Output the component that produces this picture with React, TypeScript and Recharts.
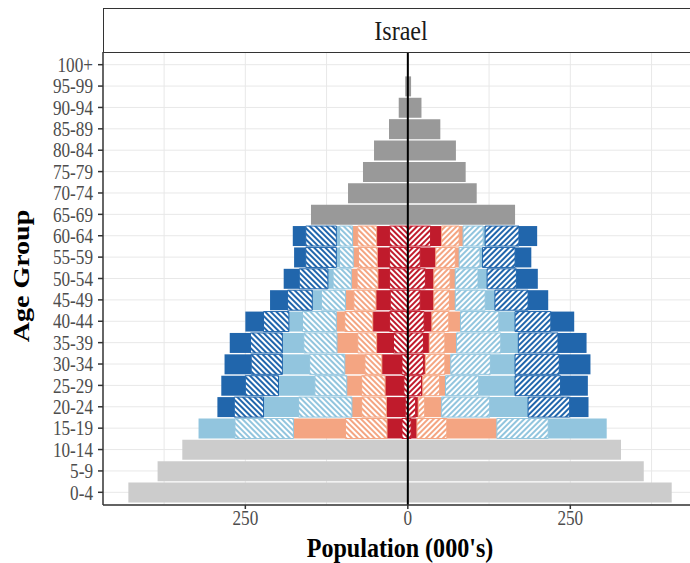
import React from 'react';
import { BarChart, Bar, XAxis, YAxis, CartesianGrid, ReferenceLine } from 'recharts';

// Age groups (bottom to top)
const youngAges = ['0-4', '5-9', '10-14'];
const workingAges = ['15-19', '20-24', '25-29', '30-34', '35-39', '40-44', '45-49', '50-54', '55-59', '60-64'];
const oldAges = ['65-69', '70-74', '75-79', '80-84', '85-89', '90-94', '95-99', '100+'];

// Population in thousands, 0-14
const maleYoung = [430, 385, 347];
const femaleYoung = [406, 363, 328];

// Population in thousands, 15-64, by group (hatched / solid parts)
const maleRedHatched = [9, 4, 6, 9, 22, 28, 27, 28, 28, 28];
const maleRedSolid = [23, 29, 29, 31, 26, 26, 22, 18, 19, 20];
const maleSalmonHatched = [64, 38, 36, 26, 29, 43, 34, 32, 29, 29];
const maleSalmonSolid = [80, 15, 23, 31, 32, 13, 13, 9, 8, 8];
const maleLightHatched = [90, 82, 49, 54, 51, 52, 37, 28, 21, 20];
const maleLightSolid = [56, 54, 56, 42, 33, 21, 14, 8, 5, 5];
const maleBlueHatched = [0, 45, 51, 48, 49, 39, 38, 44, 47, 47];
const maleBlueSolid = [0, 26, 37, 41, 32, 28, 27, 24, 18, 20];

const femaleRedHatched = [5, 12, 21, 24, 24, 25, 19, 27, 19, 35];
const femaleRedSolid = [9, 4, 2, 3, 9, 12, 21, 13, 24, 17];
const femaleSalmonHatched = [46, 10, 26, 30, 24, 26, 24, 25, 30, 27];
const femaleSalmonSolid = [77, 26, 9, 9, 18, 18, 9, 8, 6, 6];
const femaleLightHatched = [79, 74, 51, 61, 68, 59, 46, 35, 32, 31];
const femaleLightSolid = [90, 59, 56, 38, 27, 25, 15, 14, 4, 3];
const femaleBlueHatched = [0, 64, 70, 68, 61, 55, 51, 45, 50, 52];
const femaleBlueSolid = [0, 29, 42, 48, 44, 36, 31, 33, 25, 28];

// Population in thousands, 65+
const maleOld = [149, 92, 69, 52, 29, 14, 4, 0.5];
const femaleOld = [165, 106, 89, 74, 50, 21, 5, 0.8];

const xTicks = [-250, 0, 250];
const gridX = [-375, -250, -125, 0, 125, 250, 375];

const RED = '#c01b2c';
const SALMON = '#f4a582';
const LIGHT = '#92c5de';
const BLUE = '#2166ac';
const OLD_GREY = '#999999';
const YOUNG_GREY = '#cccccc';
const SERIF = '"Liberation Serif", "Times New Roman", serif';
const SQUEEZE = 0.86;

const segments = [
  { key: 'RedH', color: RED, hatched: true, m: maleRedHatched, f: femaleRedHatched },
  { key: 'RedS', color: RED, hatched: false, m: maleRedSolid, f: femaleRedSolid },
  { key: 'SalH', color: SALMON, hatched: true, m: maleSalmonHatched, f: femaleSalmonHatched },
  { key: 'SalS', color: SALMON, hatched: false, m: maleSalmonSolid, f: femaleSalmonSolid },
  { key: 'LtH', color: LIGHT, hatched: true, m: maleLightHatched, f: femaleLightHatched },
  { key: 'LtS', color: LIGHT, hatched: false, m: maleLightSolid, f: femaleLightSolid },
  { key: 'BlH', color: BLUE, hatched: true, m: maleBlueHatched, f: femaleBlueHatched },
  { key: 'BlS', color: BLUE, hatched: false, m: maleBlueSolid, f: femaleBlueSolid },
];

const allKeys = ['mYoung', 'fYoung', 'mOld', 'fOld', ...segments.flatMap((s) => ['m' + s.key, 'f' + s.key])];

const emptyRow = (age: string) => {
  const row: Record<string, number | string> = { age };
  allKeys.forEach((k) => (row[k] = 0));
  return row;
};

const data = [
  ...youngAges.map((age, i) => ({ ...emptyRow(age), mYoung: -maleYoung[i], fYoung: femaleYoung[i] })),
  ...workingAges.map((age, i) => {
    const row = emptyRow(age);
    segments.forEach((s) => {
      row['m' + s.key] = -s.m[i];
      row['f' + s.key] = s.f[i];
    });
    return row;
  }),
  ...oldAges.map((age, i) => ({ ...emptyRow(age), mOld: -maleOld[i], fOld: femaleOld[i] })),
];

const hatchId = (color: string, side: string) => `hatch-${color.slice(1)}-${side}`;

const Hatch = ({ color, side }: { color: string; side: string }) => (
  <pattern
    id={hatchId(color, side)}
    width={4}
    height={4}
    patternUnits="userSpaceOnUse"
    patternTransform={`rotate(${side === 'm' ? -45 : 45})`}
  >
    <rect width={4} height={4} fill={color} />
    <rect width={2} height={4} fill="#ffffff" />
  </pattern>
);

// narrow serif tick labels
const YTick = ({ x, y, payload }: any) => (
  <text
    transform={`translate(${x},${y}) scale(${SQUEEZE},1)`}
    textAnchor="end"
    dy="0.36em"
    fill="#4d4d4d"
    fontSize={20}
    fontFamily={SERIF}
  >
    {payload.value}
  </text>
);

const XTick = ({ x, y, payload }: any) => (
  <text
    transform={`translate(${x},${y}) scale(${SQUEEZE},1)`}
    textAnchor="middle"
    dy="0.72em"
    fill="#4d4d4d"
    fontSize={20}
    fontFamily={SERIF}
  >
    {Math.abs(payload.value)}
  </text>
);

const titleStyle: React.CSSProperties = {
  position: 'absolute',
  fontFamily: SERIF,
  fontWeight: 'bold',
  fontSize: 28,
  whiteSpace: 'nowrap',
  color: '#000',
  lineHeight: 1,
};

export default function App() {
  return (
    <div style={{ position: 'absolute', left: 0, top: 0, width: 690, height: 563, overflow: 'hidden', background: '#fff' }}>
      <BarChart
        width={700}
        height={563}
        data={data}
        layout="vertical"
        stackOffset="sign"
        barSize={20}
        margin={{ top: 52, right: 1, bottom: 0, left: 0 }}
      >
        <defs>
          {[RED, SALMON, LIGHT, BLUE].flatMap((c) => [
            <Hatch key={c + 'm'} color={c} side="m" />,
            <Hatch key={c + 'f'} color={c} side="f" />,
          ])}
        </defs>
        <CartesianGrid stroke="#e8e8e8" strokeWidth={1} verticalValues={gridX} />
        <XAxis
          type="number"
          domain={[-469, 448]}
          allowDataOverflow
          ticks={xTicks}
          height={58}
          tick={<XTick />}
          tickSize={4}
          tickMargin={2}
          axisLine={{ stroke: '#333333', strokeWidth: 1.5 }}
          tickLine={{ stroke: '#333333', strokeWidth: 1.5 }}
        />
        <YAxis
          type="category"
          dataKey="age"
          reversed
          width={103}
          interval={0}
          padding={{ top: 2, bottom: 2 }}
          tick={<YTick />}
          tickSize={5}
          tickMargin={5}
          axisLine={{ stroke: '#333333', strokeWidth: 1.5 }}
          tickLine={{ stroke: '#333333', strokeWidth: 1.5 }}
        />
        <Bar dataKey="mYoung" stackId="a" fill={YOUNG_GREY} isAnimationActive={false} />
        <Bar dataKey="fYoung" stackId="a" fill={YOUNG_GREY} isAnimationActive={false} />
        <Bar dataKey="mOld" stackId="a" fill={OLD_GREY} isAnimationActive={false} />
        <Bar dataKey="fOld" stackId="a" fill={OLD_GREY} isAnimationActive={false} />
        {segments.flatMap((s) =>
          ['m', 'f'].map((side) => (
            <Bar
              key={side + s.key}
              dataKey={side + s.key}
              stackId="a"
              fill={s.hatched ? `url(#${hatchId(s.color, side)})` : s.color}
              stroke={s.hatched ? s.color : 'none'}
              strokeWidth={s.hatched ? 1 : 0}
              isAnimationActive={false}
            />
          ))
        )}
        <ReferenceLine x={0} stroke="#000000" strokeWidth={2} />
      </BarChart>

      {/* facet strip */}
      <div
        style={{
          position: 'absolute',
          left: 103,
          top: 8,
          width: 610,
          height: 45,
          boxSizing: 'border-box',
          border: '1px solid #333333',
          background: '#ffffff',
        }}
      >
        <div
          style={{
            position: 'absolute',
            left: 297,
            top: 22,
            transform: `translate(-50%, -50%) scale(${SQUEEZE}, 1)`,
            fontFamily: SERIF,
            fontSize: 28,
            color: '#1a1a1a',
            lineHeight: 1,
            whiteSpace: 'nowrap',
          }}
        >
          Israel
        </div>
      </div>

      {/* axis titles */}
      <div style={{ ...titleStyle, left: 21, top: 276, transform: `translate(-50%, -50%) scale(${SQUEEZE}, 1) rotate(-90deg)` }}>
        Age Group
      </div>
      <div style={{ ...titleStyle, left: 400, top: 548, transform: `translate(-50%, -50%) scale(${SQUEEZE}, 1)` }}>
        Population (000's)
      </div>
    </div>
  );
}
